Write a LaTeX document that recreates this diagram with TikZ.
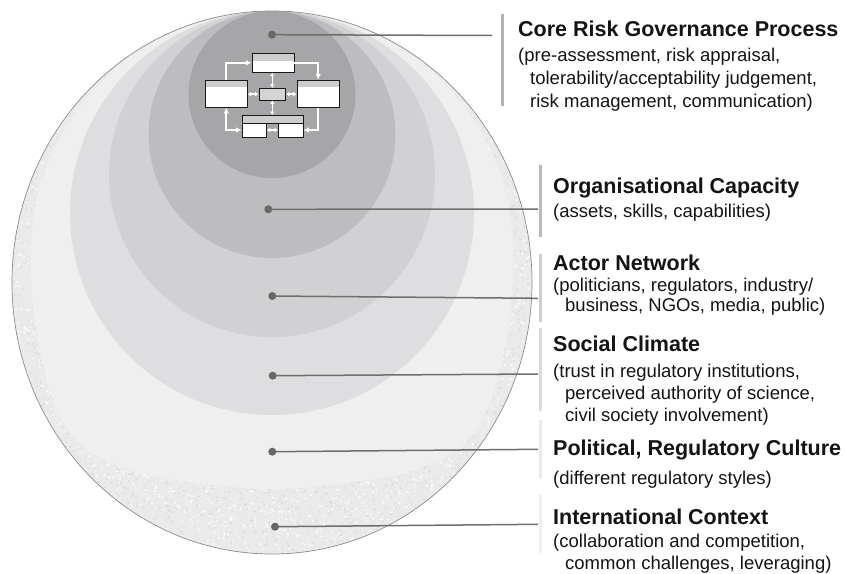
\documentclass[tikz,border=0pt]{standalone}
\usepackage{fontspec}
\setmainfont{Liberation Sans}
\usetikzlibrary{arrows.meta}
\definecolor{corefill}{HTML}{A6A6A8}
\definecolor{orgfill}{HTML}{BDBDBF}
\definecolor{actfill}{HTML}{D1D1D3}
\definecolor{socfill}{HTML}{DEDEE0}
\definecolor{polfill}{HTML}{EFEFEF}
\definecolor{outfill}{HTML}{EAEAEA}
\definecolor{speck}{HTML}{DCDCDC}
\definecolor{rimgray}{HTML}{8C8C8C}
\definecolor{dotgray}{HTML}{666666}
\definecolor{leadgray}{HTML}{6E6E6E}
\definecolor{hdrgray}{HTML}{CDCDCD}
\definecolor{txt}{HTML}{141414}
\begin{document}
\begin{tikzpicture}[x=1pt,y=-1pt,
  ttl/.style={anchor=base west, inner sep=0pt, font=\fontsize{21.5}{24}\selectfont\bfseries, text=txt},
  sub/.style={anchor=base west, inner sep=0pt, font=\fontsize{18.5}{21}\selectfont, text=txt},
  dot/.style={circle, fill=dotgray, inner sep=0pt, minimum size=8pt},
  lead/.style={draw=leadgray, line width=1.5pt},
  barline/.style={line width=3pt},
  box/.style={draw=black!90, line width=0.8pt, fill=white, inner sep=0pt},
  hbox/.style={box, path picture={\fill[hdrgray] (path picture bounding box.north west) rectangle ([yshift=-#1]path picture bounding box.north east);}},
  flow/.style={draw=white, line width=1.8pt, -{Latex[length=5.5pt,width=5.5pt]}},
  flowtwo/.style={draw=white, line width=1.8pt, {Latex[length=5.5pt,width=5.5pt]}-{Latex[length=5.5pt,width=5.5pt]}},
  dbl/.style={draw=white, line width=1.6pt, {Latex[length=3.5pt,width=5pt]}-{Latex[length=3.5pt,width=5pt]}}
]
\useasboundingbox (0,0) rectangle (845,573);
\fill[white] (0,0) rectangle (845,573);

% outer textured area
\fill[outfill] (272,282.5) ellipse [x radius=260, y radius=271.5];
\begin{scope}
  \clip (272,282.5) ellipse [x radius=260, y radius=271.5];
  \pgfmathsetseed{11}
  \foreach \i in {1,...,6000}{
    \pgfmathsetmacro{\aa}{360*rnd}
    \pgfmathsetmacro{\ss}{0.74+0.27*rnd}
    \pgfmathsetmacro{\rr}{0.4+0.9*rnd}
    \ifodd\i
      \fill[white, opacity=0.8] ({272+\ss*260*cos(\aa)},{282.5+\ss*271.5*sin(\aa)}) circle[radius=\rr];
    \else
      \fill[speck] ({272+\ss*260*cos(\aa)},{282.5+\ss*271.5*sin(\aa)}) circle[radius=\rr];
    \fi
  }
\end{scope}

% nested layers
\fill[polfill] plot[smooth cycle, tension=0.65] coordinates {(272,11) (364,29) (442,81) (495,160) (513,252) (502,360) (472,435) (420,468) (360,481) (272,489) (184,481) (124,468) (72,435) (42,360) (31,252) (49,160) (102,81) (180,29)};
\fill[socfill] (272,213) circle[radius=202];
\fill[actfill] (272,174) circle[radius=163];
\fill[orgfill] (272,134.5) circle[radius=123.5];
\fill[corefill] (272,94.5) circle[radius=83.5];
\draw[rimgray, line width=0.7pt] (272,282.5) ellipse [x radius=260, y radius=271.5];

% core process flowchart
\node[hbox=7.4pt, minimum width=42pt, minimum height=19pt] (T) at (273,62.8) {};
\node[hbox=7.3pt, minimum width=42pt, minimum height=27.3pt] (L) at (226.3,93.7) {};
\node[hbox=7.3pt, minimum width=42.3pt, minimum height=27.3pt] (R) at (318.2,93.7) {};
\node[box, fill=hdrgray!85, minimum width=26.7pt, minimum height=11.7pt] (C) at (272.3,94.2) {};
\node[box, fill=hdrgray, minimum width=61pt, minimum height=7.5pt] (BH) at (272.5,119.2) {};
\node[box, minimum width=24.3pt, minimum height=14pt] (BL) at (254.1,130) {};
\node[box, minimum width=24.5pt, minimum height=14pt] (BR) at (290.7,130) {};

\draw[flow] (L.north) |- (T.west);
\draw[flow] (T.east) -| (R.north);
\draw[flow] (R.south) |- (BR.east);
\draw[flowtwo] (BL.west) -| (L.south);
\draw[dbl] (C.west) -- (L.east |- C.west);
\draw[dbl] (C.east) -- (R.west |- C.east);
\draw[dbl] (C.north) -- (C.north |- T.south);
\draw[dbl] (C.south) -- (C.south |- BH.north);
\draw[dbl] (BL.east) -- (BR.west);

% leader dots and lines
\node[dot] (d1) at (272,34.7) {};
\node[dot] (d2) at (268.3,209.3) {};
\node[dot] (d3) at (272.3,296) {};
\node[dot] (d4) at (272.7,375.7) {};
\node[dot] (d5) at (272.3,451.7) {};
\node[dot] (d6) at (275,526.7) {};
\coordinate (e1) at (492,35.5);
\coordinate (e2) at (538,209);
\coordinate (e3) at (538,298.3);
\coordinate (e4) at (538,374);
\coordinate (e5) at (538,449.3);
\coordinate (e6) at (538,524.3);
\draw[lead] (d1.center) -- (e1);
\draw[lead] (d2.center) -- (e2);
\draw[lead] (d3.center) -- (e3);
\draw[lead] (d4.center) -- (e4);
\draw[lead] (d5.center) -- (e5);
\draw[lead] (d6.center) -- (e6);

% vertical bars
\draw[barline, color=black!30] (502,14) -- (502,106);
\draw[barline, color=black!27] (540.5,165) -- (540.5,237);
\draw[barline, color=black!19] (540.5,254) -- (540.5,322);
\draw[barline, color=black!14] (540.5,328) -- (540.5,411);
\draw[barline, color=black!8] (540.5,420) -- (540.5,479);
\draw[barline, color=black!6] (540.5,495) -- (540.5,554);

% texts
\node[ttl] (t1) at (518,36) {Core Risk Governance Process};
\node[sub] (s11) at (518,61) {(pre-assessment, risk appraisal,};
\node[sub] (s12) at (530,84) {tolerability/acceptability judgement,};
\node[sub] (s13) at (530,107) {risk management, communication)};

\node[ttl] (t2) at (553,193) {Organisational Capacity};
\node[sub] (s21) at (553,217) {(assets, skills, capabilities)};

\node[ttl] (t3) at (553,270) {Actor Network};
\node[sub] (s31) at (553,291) {(politicians, regulators, industry/};
\node[sub] (s32) at (565,311) {business, NGOs, media, public)};

\node[ttl] (t4) at (553,351) {Social Climate};
\node[sub] (s41) at (553,377) {(trust in regulatory institutions,};
\node[sub] (s42) at (565,399) {perceived authority of science,};
\node[sub] (s43) at (565,421) {civil society involvement)};

\node[ttl] (t5) at (553,455.5) {Political, Regulatory Culture};
\node[sub] (s51) at (553,484) {(different regulatory styles)};

\node[ttl] (t6) at (553,524) {International Context};
\node[sub] (s61) at (553,547) {(collaboration and competition,};
\node[sub] (s62) at (565,569) {common challenges, leveraging)};
\end{tikzpicture}
\end{document}
